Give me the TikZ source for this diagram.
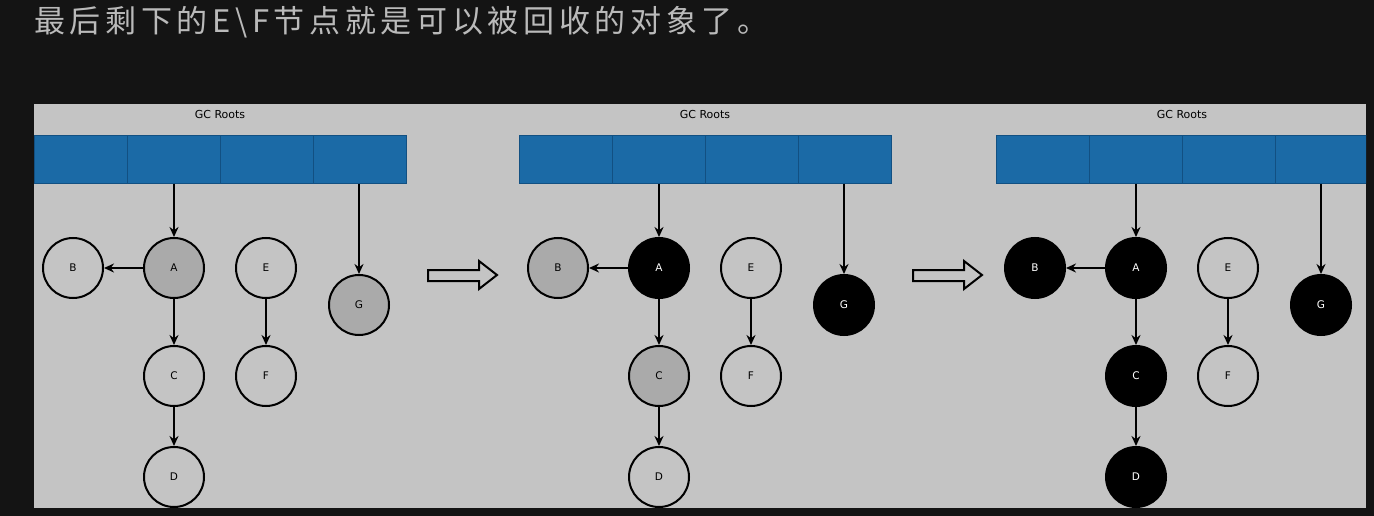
\documentclass[tikz,border=0pt]{standalone}
\usepackage{fontspec}
\setmainfont{DejaVu Sans}
\newfontfamily\cjk{Noto Sans CJK SC}
\usetikzlibrary{arrows.meta}
\definecolor{pagebg}{RGB}{20,20,20}
\definecolor{panelbg}{RGB}{196,196,196}
\definecolor{rootblue}{RGB}{27,106,166}
\definecolor{rootedge}{RGB}{18,80,130}
\definecolor{markgray}{RGB}{170,170,170}
\definecolor{titlegray}{RGB}{186,186,186}

\begin{document}
\begin{tikzpicture}[x=1pt, y=-1pt,
		>={Stealth[length=10pt,width=9pt]},   %Pfeilspitzen
		obj/.style={draw=black, line width=2pt, circle, minimum size=60pt, inner sep=0pt, font=\fontsize{10.5}{12}\selectfont},
		unseen/.style={obj},
		seen/.style={obj, fill=markgray},
		done/.style={obj, fill=black, text=white},
		ref/.style={->, line width=2pt},
		rootcell/.style={draw=rootedge, fill=rootblue, line width=1pt, minimum width=93pt, minimum height=48pt, inner sep=0pt, anchor=north west},
		hollow/.style={draw=black, line width=2pt, fill=panelbg, line join=miter}]
	%Hintergrund
	\fill[pagebg] (0,0) rectangle (1374,516);
	\useasboundingbox (0,0) rectangle (1374,516);
	\fill[panelbg] (34,104) rectangle (1366,508);
	% Ueberschrift
	\node[anchor=west, text=titlegray, inner sep=0pt, font=\cjk\fontsize{31}{32}\selectfont\addfontfeature{LetterSpace=15}] (title) at (34,22) {最后剩下的E\textbackslash F节点就是可以被回收的对象了。};
	% drei Zustaende
	\begin{scope}
		\clip (34,104) rectangle (1366,508);
		\foreach \p/\dx/\sa/\sb/\sc/\sd/\sg in {1/0/seen/unseen/unseen/unseen/seen, 2/485/done/seen/seen/unseen/done, 3/962/done/done/done/done/done}{
			\begin{scope}[xshift=\dx]
				\node[font=\fontsize{11}{12}\selectfont] (t\p) at (220,114) {GC Roots};
				\foreach \k in {0,...,3} \node[rootcell] (r\p\k) at ({34+93*\k},135) {};
				\node[\sa] (A\p) at (174,268) {A};
				\node[\sb] (B\p) at (73,268) {B};
				\node[\sc] (C\p) at (174,376) {C};
				\node[\sd] (D\p) at (174,477) {D};
				\node[unseen] (E\p) at (266,268) {E};
				\node[unseen] (F\p) at (266,376) {F};
				\node[\sg] (G\p) at (359,305) {G};
				\draw[ref] (A\p |- r\p1.south) -- (A\p);
				\draw[ref] (G\p |- r\p3.south) -- (G\p);
				\draw[ref] (A\p) -- (B\p);
				\draw[ref] (A\p) -- (C\p);
				\draw[ref] (C\p) -- (D\p);
				\draw[ref] (E\p) -- (F\p);
			\end{scope}
		}
	\end{scope}
	% Pfeile zwischen den Bildern
	\foreach \dx in {0,485}
		\draw[hollow, xshift=\dx] (428,270) -- (479,270) -- (479,261) -- (497,275) -- (479,289) -- (479,281) -- (428,281) -- cycle;
\end{tikzpicture}
\end{document}
